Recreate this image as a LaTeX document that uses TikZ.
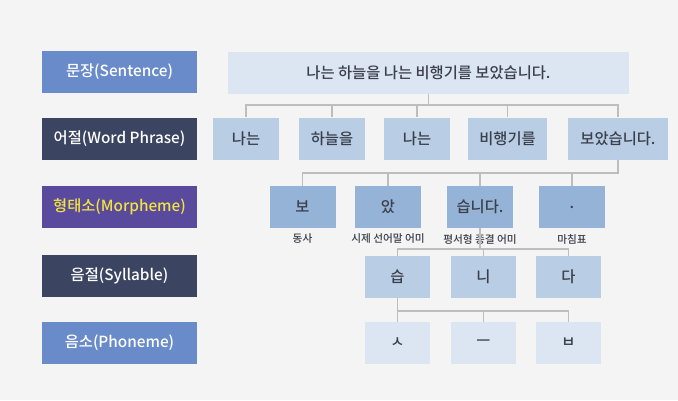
\documentclass[tikz,border=0pt]{standalone}
\usepackage{fontspec}
\setmainfont{Noto Sans CJK KR}[UprightFont={* Medium}, BoldFont={* Bold}]
\usepackage{xcolor}
\definecolor{ColorBg}{HTML}{F4F4F4}
\definecolor{ColorSent}{HTML}{DCE6F2}
\definecolor{ColorWord}{HTML}{B9CDE5}
\definecolor{ColorMorph}{HTML}{95B3D7}
\definecolor{ColorLblBlue}{HTML}{6A8BC9}
\definecolor{ColorLblDark}{HTML}{3B4461}
\definecolor{ColorLblPurple}{HTML}{5A4A9E}
\definecolor{ColorLblYellow}{HTML}{F2E43C}
\definecolor{ColorTxt}{HTML}{3A3F4A}
\definecolor{ColorLine}{HTML}{BDBDBD}

\tikzset{
  lvl/.style={minimum width=116.25pt, minimum height=31.5pt, inner sep=0pt, font=\fontsize{11.5}{13}\selectfont},
  unit/.style={minimum height=31.5pt, inner sep=0pt, text=ColorTxt, font=\fontsize{11.5}{13}\selectfont},
  tag/.style={inner sep=0pt, text=ColorTxt, font=\fontsize{8}{9}\selectfont},
  link/.style={draw=ColorLine, line width=0.8pt}
}

\begin{document}
\begin{tikzpicture}[x=0.75pt, y=-0.75pt]
        \fill[ColorBg] (0,0) rectangle (678,400);
        % level labels on the left
        \foreach \t/\y/\c/\tc [count=\i] in {문장(Sentence)/72/ColorLblBlue/white,
            어절(Word Phrase)/139/ColorLblDark/white,
            형태소(Morpheme)/207/ColorLblPurple/ColorLblYellow,
            음절(Syllable)/275.5/ColorLblDark/white,
            음소(Phoneme)/343/ColorLblBlue/white} {
            \node[lvl, fill=\c, text=\tc] (lv\i) at (119.5,\y) {\t};
        }
        % sentence
        \node[unit, fill=ColorSent, minimum width=300.75pt] (sent) at (428.5,72.5) {나는 하늘을 나는 비행기를 보았습니다.};
        % word phrases
        \foreach \t/\x/\w [count=\i] in {나는/246/66, 하늘을/332/66, 나는/417/66, 비행기를/507.5/79, 보았습니다./618/100} {
            \node[unit, fill=ColorWord, minimum width=\w*0.75pt] (wp\i) at (\x,138.5) {\t};
            \draw[link] (sent.south) -- (sent.south |- 0,105) -| (wp\i.north);
        }
        % morphemes
        \foreach \t/\x/\lab [count=\i] in {보/302.5/동사, 았/388/시제 선어말 어미, 습니다./480/평서형 종결 어미, ./572/마침표} {
            \node[unit, fill=ColorMorph, minimum width=49.5pt] (mo\i) at (\x,207) {\t};
            \node[tag] (mt\i) at (\x,239) {\lab};
            \draw[link] (wp5.south) -- (wp5.south |- 0,173) -| (mo\i.north);
        }
        % syllables
        \foreach \t/\x [count=\i] in {습/397.5, 니/483.5, 다/568.5} {
            \node[unit, fill=ColorWord, minimum width=48.75pt] (sy\i) at (\x,277) {\t};
            \draw[link] (mo3.south) -- (mo3.south |- 0,249) -| (sy\i.north);
        }
        % phonemes
        \foreach \t/\x [count=\i] in {ㅅ/397.5, ㅡ/483.5, ㅂ/568.5} {
            \node[unit, fill=ColorSent, minimum width=48.75pt] (ph\i) at (\x,343) {\t};
            \draw[link] (sy1.south) -- (sy1.south |- 0,311) -| (ph\i.north);
        }
    \end{tikzpicture}
\end{document}
